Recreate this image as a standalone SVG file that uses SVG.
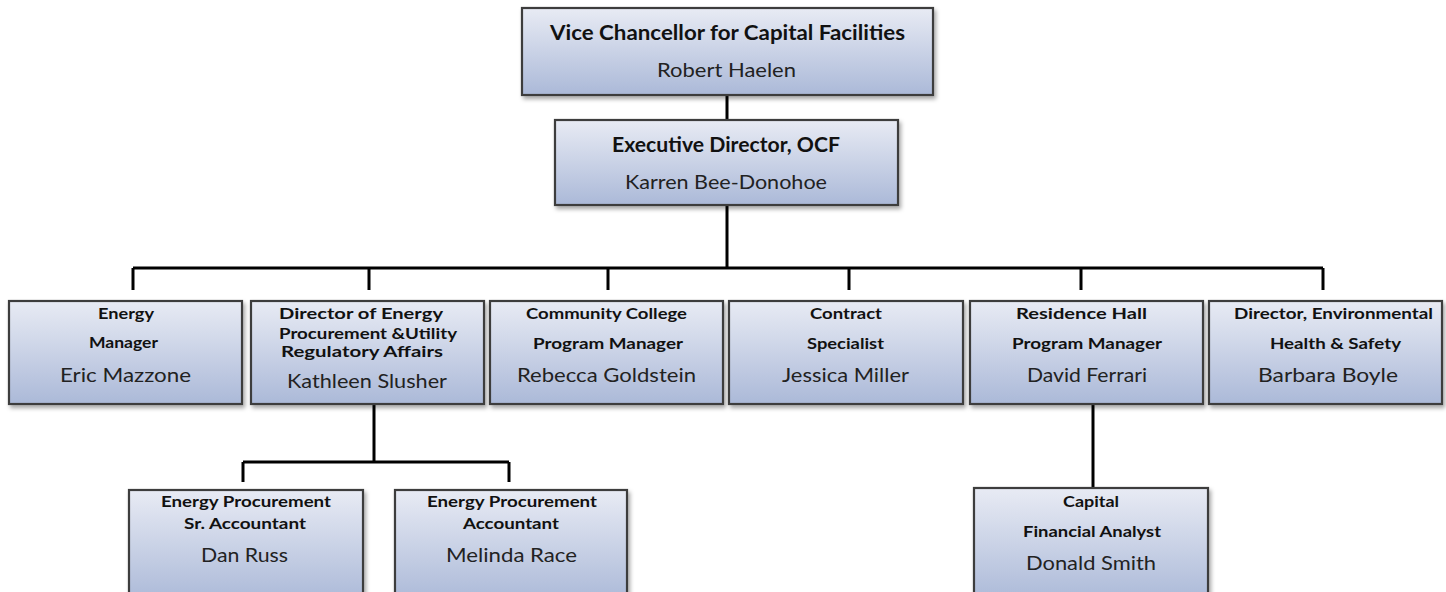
<svg xmlns="http://www.w3.org/2000/svg" width="1446" height="592" viewBox="0 0 1446 592">
<defs>
<linearGradient id="g" x1="0" y1="0" x2="0" y2="1">
<stop offset="0" stop-color="#e8ebf4"/>
<stop offset="1" stop-color="#abb9d8"/>
</linearGradient>
<filter id="sh" x="-5%" y="-5%" width="115%" height="125%">
<feDropShadow dx="2" dy="3" stdDeviation="2" flood-color="#000" flood-opacity="0.35"/>
</filter>
</defs>
<style>
.box{fill:url(#g);stroke:#3c3c3c;stroke-width:2.2;filter:url(#sh)}
.t{font-family:Lato,"Open Sans","Liberation Sans",sans-serif;font-weight:bold;font-size:16px;fill:#111;text-anchor:middle}
.tb{font-family:Lato,"Open Sans","Liberation Sans",sans-serif;font-weight:bold;font-size:20px;fill:#111;text-anchor:middle}
.n{font-family:Lato,"Open Sans","Liberation Sans",sans-serif;font-size:20px;fill:#222;text-anchor:middle}
.c{fill:none;stroke:#000;stroke-width:3}
</style>
<rect width="1446" height="592" fill="#fff"/>
<g id="connectors">
<path class="c" d="M727 95V120M727 205V268M133 268H1323M133 268V290M369 268V290M608 268V290M849 268V290M1081 268V290M1323 268V290"/>
<path class="c" d="M374 404V462M243 462H509M243 462V482M509 462V482"/>
<path class="c" d="M1093 404V488"/>
</g>
<g id="vc">
<rect class="box" x="522" y="8" width="411" height="87"/>
<text class="tb" x="727.5" y="40" textLength="355" lengthAdjust="spacingAndGlyphs">Vice Chancellor for Capital Facilities</text>
<text class="n" x="726.5" y="77" textLength="139" lengthAdjust="spacingAndGlyphs">Robert Haelen</text>
</g>
<g id="ed">
<rect class="box" x="555" y="120" width="343" height="85"/>
<text class="tb" x="726" y="152" textLength="228" lengthAdjust="spacingAndGlyphs">Executive Director, OCF</text>
<text class="n" x="726" y="189" textLength="202" lengthAdjust="spacingAndGlyphs">Karren Bee-Donohoe</text>
</g>
<g id="em">
<rect class="box" x="9" y="301" width="233" height="103"/>
<text class="t" x="126" y="319" textLength="56" lengthAdjust="spacingAndGlyphs">Energy</text>
<text class="t" x="123.5" y="348" textLength="69" lengthAdjust="spacingAndGlyphs">Manager</text>
<text class="n" x="125.5" y="382" textLength="131" lengthAdjust="spacingAndGlyphs">Eric Mazzone</text>
</g>
<g id="dep">
<rect class="box" x="251" y="301" width="233" height="103"/>
<text class="t" x="361" y="319" textLength="164" lengthAdjust="spacingAndGlyphs">Director of Energy</text>
<text class="t" x="368" y="339" textLength="178" lengthAdjust="spacingAndGlyphs">Procurement &amp;Utility</text>
<text class="t" x="362" y="357" textLength="162" lengthAdjust="spacingAndGlyphs">Regulatory Affairs</text>
<text class="n" x="367" y="388" textLength="160" lengthAdjust="spacingAndGlyphs">Kathleen Slusher</text>
</g>
<g id="cc">
<rect class="box" x="490" y="301" width="233" height="103"/>
<text class="t" x="606.5" y="319" textLength="161" lengthAdjust="spacingAndGlyphs">Community College</text>
<text class="t" x="608" y="349" textLength="150" lengthAdjust="spacingAndGlyphs">Program Manager</text>
<text class="n" x="606.5" y="382" textLength="179" lengthAdjust="spacingAndGlyphs">Rebecca Goldstein</text>
</g>
<g id="cs">
<rect class="box" x="729" y="301" width="234" height="103"/>
<text class="t" x="846" y="319" textLength="72" lengthAdjust="spacingAndGlyphs">Contract</text>
<text class="t" x="845.5" y="349" textLength="77" lengthAdjust="spacingAndGlyphs">Specialist</text>
<text class="n" x="845.5" y="382" textLength="127" lengthAdjust="spacingAndGlyphs">Jessica Miller</text>
</g>
<g id="rh">
<rect class="box" x="970" y="301" width="233" height="103"/>
<text class="t" x="1081.5" y="319" textLength="131" lengthAdjust="spacingAndGlyphs">Residence Hall</text>
<text class="t" x="1087" y="349" textLength="150" lengthAdjust="spacingAndGlyphs">Program Manager</text>
<text class="n" x="1087" y="382" textLength="120" lengthAdjust="spacingAndGlyphs">David Ferrari</text>
</g>
<g id="ehs">
<rect class="box" x="1209" y="301" width="233" height="103"/>
<text class="t" x="1333.5" y="319" textLength="199" lengthAdjust="spacingAndGlyphs">Director, Environmental</text>
<text class="t" x="1335.5" y="349" textLength="131" lengthAdjust="spacingAndGlyphs">Health &amp; Safety</text>
<text class="n" x="1328" y="382" textLength="140" lengthAdjust="spacingAndGlyphs">Barbara Boyle</text>
</g>
<g id="sra">
<rect class="box" x="129" y="490" width="234" height="112"/>
<text class="t" x="246" y="507" textLength="170" lengthAdjust="spacingAndGlyphs">Energy Procurement</text>
<text class="t" x="245" y="529" textLength="122" lengthAdjust="spacingAndGlyphs">Sr. Accountant</text>
<text class="n" x="244.5" y="562" textLength="87" lengthAdjust="spacingAndGlyphs">Dan Russ</text>
</g>
<g id="acc">
<rect class="box" x="395" y="490" width="232" height="112"/>
<text class="t" x="512" y="507" textLength="170" lengthAdjust="spacingAndGlyphs">Energy Procurement</text>
<text class="t" x="511" y="529" textLength="96" lengthAdjust="spacingAndGlyphs">Accountant</text>
<text class="n" x="511.5" y="562" textLength="131" lengthAdjust="spacingAndGlyphs">Melinda Race</text>
</g>
<g id="cfa">
<rect class="box" x="974" y="488" width="234" height="114"/>
<text class="t" x="1091" y="507" textLength="56" lengthAdjust="spacingAndGlyphs">Capital</text>
<text class="t" x="1092" y="537" textLength="138" lengthAdjust="spacingAndGlyphs">Financial Analyst</text>
<text class="n" x="1091" y="570" textLength="130" lengthAdjust="spacingAndGlyphs">Donald Smith</text>
</g>
</svg>
